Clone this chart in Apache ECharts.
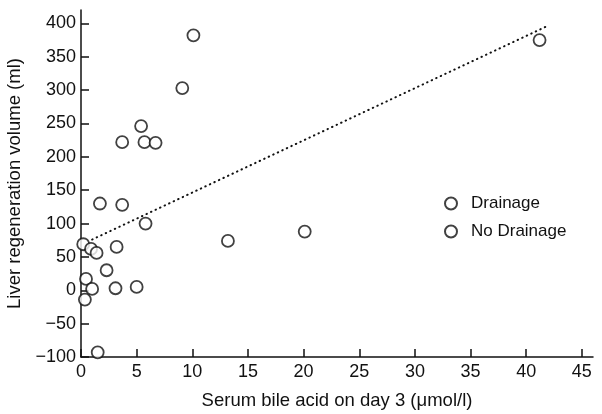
<!DOCTYPE html>
<html>
<head>
<meta charset="utf-8">
<script src="https://cdn.jsdelivr.net/npm/echarts@6/dist/echarts.min.js"></script>
<style>
html, body { margin: 0; padding: 0; background: #fff; }
#chart { width: 602px; height: 414px; }
</style>
</head>
<body>
<div id="chart"></div>
<script>
// values
var bileAcid = [10.1, 9.1, 5.4, 3.7, 5.7, 6.7, 1.7, 3.7, 5.8, 0.2, 0.9, 1.4, 3.2, 2.3, 0.45, 1.0, 0.35, 3.1, 5.0, 1.5, 13.2, 20.1, 41.2];
var regenVolume = [382, 303, 246, 222, 222, 221, 130, 128, 100, 69, 62, 56, 65, 30, 17, 2, -14, 3, 5, -93, 74, 88, 375];
// dotted regression line end points
var fitX = [1.0, 41.9];
var fitY = [76, 396];
var xTicks = [0, 5, 10, 15, 20, 25, 30, 35, 40, 45];
var yTicks = [-100, -50, 0, 50, 100, 150, 200, 250, 300, 350, 400];
var legendNames = ['Drainage', 'No Drainage'];

var points = [];
for (var i = 0; i < bileAcid.length; i++) {
  points.push([bileAcid[i], regenVolume[i]]);
}
var fit = [];
for (var j = 0; j < fitX.length; j++) {
  fit.push([fitX[j], fitY[j]]);
}

var font = 'Liberation Sans, Arial, sans-serif';
var ink = '#111';
var marker = { color: '#fff', borderColor: ink, borderWidth: 1.8 };

var myChart = echarts.init(document.getElementById('chart'));
var option = {
  backgroundColor: '#fff',
  animation: false,
  grid: { left: 81, right: 9, top: 10, bottom: 57, outerBoundsMode: 'none' },
  legend: {
    data: legendNames,
    orient: 'vertical',
    left: 439,
    top: 190,
    itemWidth: 12,
    itemHeight: 12,
    itemGap: 11,
    textStyle: { fontFamily: font, fontSize: 17, color: ink, padding: [0, 0, 0, 9] }
  },
  xAxis: {
    type: 'value',
    min: 0,
    max: 46,
    name: 'Serum bile acid on day 3 (\u03bcmol/l)',
    nameLocation: 'middle',
    nameGap: 34,
    nameTextStyle: { fontFamily: font, fontSize: 18.5, color: ink },
    splitLine: { show: false },
    axisLine: { onZero: false, lineStyle: { color: ink, width: 1.5 } },
    axisTick: { inside: true, length: 8, lineStyle: { color: ink, width: 1.5 }, customValues: xTicks },
    axisLabel: { margin: 6, fontFamily: font, fontSize: 18, color: ink, customValues: xTicks }
  },
  yAxis: {
    type: 'value',
    min: -100,
    max: 420,
    name: 'Liver regeneration volume (ml)',
    nameLocation: 'middle',
    nameGap: 52,
    nameTextStyle: { fontFamily: font, fontSize: 18.5, color: ink },
    splitLine: { show: false },
    axisLine: { onZero: false, lineStyle: { color: ink, width: 1.5 } },
    axisTick: { inside: true, length: 8, lineStyle: { color: ink, width: 1.5 }, customValues: yTicks },
    axisLabel: {
      margin: 5, fontFamily: font, fontSize: 18, color: ink, customValues: yTicks,
      formatter: function (v) { return String(v).replace('-', '\u2212'); }
    }
  },
  series: [{
    name: 'fit',
    type: 'line',
    showSymbol: false,
    silent: true,
    z: 1,
    lineStyle: { color: ink, width: 2, type: [0.5, 4.5], cap: 'round' },
    data: fit
  }, {
    name: 'Drainage',
    type: 'scatter',
    symbol: 'circle',
    symbolSize: 12,
    z: 3,
    itemStyle: marker,
    data: points
  }, {
    name: 'No Drainage',
    type: 'scatter',
    symbol: 'circle',
    symbolSize: 12,
    z: 3,
    itemStyle: marker,
    data: []
  }]
};
myChart.setOption(option);
</script>
</body>
</html>
